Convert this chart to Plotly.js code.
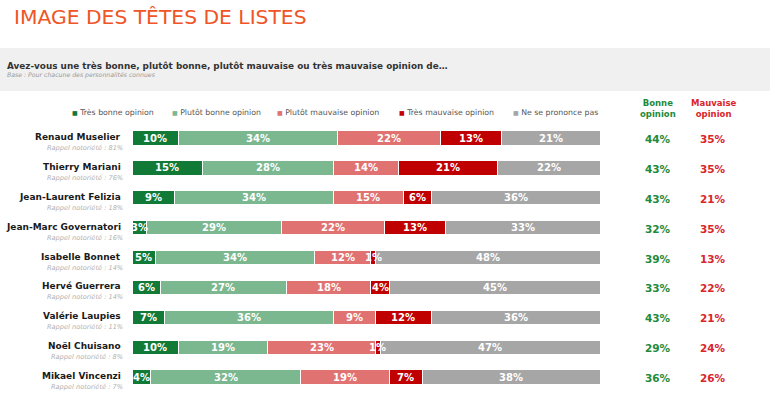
<!DOCTYPE html>
<html><head><meta charset="utf-8">
<script src="https://cdn.plot.ly/plotly-3.0.1.min.js"></script>
<style>html,body{margin:0;padding:0;background:#fff;}#chart{width:770px;height:396px;}</style>
</head><body><div id="chart"></div>
<script>
const names = ["Renaud Muselier","Thierry Mariani","Jean-Laurent Felizia","Jean-Marc Governatori","Isabelle Bonnet","Hervé Guerrera","Valérie Laupies","Noël Chuisano","Mikael Vincenzi"];
const rappel = [81,76,18,16,14,14,11,8,7];
const tresBonne = [10,15,9,3,5,6,7,10,4];
const plutotBonne = [34,28,34,29,34,27,36,19,32];
const plutotMauvaise = [22,14,15,22,12,18,9,23,19];
const tresMauvaise = [13,21,6,13,1,4,12,1,7];
const nsp = [21,22,36,33,48,45,36,47,38];
const bonneOpinion = [44,43,43,32,39,33,43,29,36];
const mauvaiseOpinion = [35,35,21,35,13,22,21,24,26];
const seriesNames = ["Très bonne opinion","Plutôt bonne opinion","Plutôt mauvaise opinion","Très mauvaise opinion","Ne se prononce pas"];
const colors = ["#127a37","#7bb78f","#e07272","#c00000","#a6a6a6"];
const seriesVals = [tresBonne, plutotBonne, plutotMauvaise, tresMauvaise, nsp];

const F = "DejaVu Sans, Verdana, sans-serif";
const traces = seriesVals.map((v,i)=>({
  type:'bar', orientation:'h', name:seriesNames[i], y:names, x:v,
  marker:{color:colors[i], line:{color:'#ffffff', width:1}},
  width:0.48,
  hoverinfo:'none'
}));

const ann = [];
// Segment labels (drawn on top so small segments overflow like the reference)
names.forEach((n,r)=>{
  let cum = 0;
  seriesVals.forEach((v,i)=>{
    const mid = cum + v[r]/2;
    cum += v[r];
    ann.push({xref:'x', yref:'y', x:mid, y:n, yshift:0, xanchor:'center', yanchor:'middle', showarrow:false,
      text:'<b>'+v[r]+'%</b>', font:{family:F, size:10, color:'#ffffff'}});
  });
});
// Title
ann.push({xref:'paper', yref:'paper', x:0, xshift:-132+12, y:1, yshift:122-31, xanchor:'left', yanchor:'bottom', showarrow:false,
  text:'IMAGE DES TÊTES DE LISTES', font:{family:F, size:20.3, color:'#ef5526'}});
// Question
ann.push({xref:'paper', yref:'paper', x:0, xshift:-132+5, y:1, yshift:122-66, xanchor:'left', yanchor:'middle', showarrow:false,
  text:'<b>Avez-vous une très bonne, plutôt bonne, plutôt mauvaise ou très mauvaise opinion de…</b>', font:{family:F, size:8.85, color:'#333333'}});
ann.push({xref:'paper', yref:'paper', x:0, xshift:-132+5, y:1, yshift:122-75, xanchor:'left', yanchor:'middle', showarrow:false,
  text:'<i>Base : Pour chacune des personnalités connues</i>', font:{family:F, size:6.2, color:'#9a9a9a'}});
// Legend
const legX = [70,170,275,397,511];
seriesNames.forEach((s,i)=>{
  ann.push({xref:'paper', yref:'paper', x:0, xshift:-132+legX[i], y:1, yshift:122-112, xanchor:'left', yanchor:'middle', showarrow:false,
    text:'<span style="color:'+colors[i]+';font-size:6px">■</span> '+s, font:{family:F, size:7.8, color:'#555555'}});
});
// Column headers
ann.push({xref:'paper', yref:'paper', x:1, xshift:658-600, y:1, yshift:122-108, xanchor:'center', yanchor:'middle', showarrow:false,
  text:'<b>Bonne<br>opinion</b>', font:{family:F, size:8.5, color:'#1e8a3c'}});
ann.push({xref:'paper', yref:'paper', x:1, xshift:713-600, y:1, yshift:122-108, xanchor:'center', yanchor:'middle', showarrow:false,
  text:'<b>Mauvaise<br>opinion</b>', font:{family:F, size:8.5, color:'#d9262b'}});
names.forEach((n,i)=>{
  ann.push({xref:'paper', yref:'y', x:0, xshift:-9, y:n, yshift:1, xanchor:'right', yanchor:'middle', showarrow:false,
    text:'<b>'+n+'</b>', font:{family:F, size:9, color:'#1a1a1a'}});
  ann.push({xref:'paper', yref:'y', x:0, xshift:-7, y:n, yshift:-10, xanchor:'right', yanchor:'middle', showarrow:false,
    text:'<i>Rappel notoriété : '+rappel[i]+'%</i>', font:{family:F, size:6.6, color:'#b0b0b0'}});
  ann.push({xref:'paper', yref:'y', x:1, xshift:58, y:n, yshift:-1, xanchor:'center', yanchor:'middle', showarrow:false,
    text:'<b>'+bonneOpinion[i]+'%</b>', font:{family:F, size:10.5, color:'#1e8a3c'}});
  ann.push({xref:'paper', yref:'y', x:1, xshift:113, y:n, yshift:-1, xanchor:'center', yanchor:'middle', showarrow:false,
    text:'<b>'+mauvaiseOpinion[i]+'%</b>', font:{family:F, size:10.5, color:'#d9262b'}});
});

const pyTop = 122, pyBot = 392, H = pyBot-pyTop;
const toPaperY = p => (pyBot-p)/H;
const layout = {
  width:770, height:396,
  margin:{l:132, r:170, t:122, b:4, pad:0},
  paper_bgcolor:'#ffffff', plot_bgcolor:'#ffffff',
  barmode:'stack', bargap:0.5, showlegend:false,
  xaxis:{range:[0,100], visible:false, fixedrange:true},
  yaxis:{autorange:'reversed', visible:false, fixedrange:true, type:'category', categoryorder:'array', categoryarray:names},
  shapes:[{type:'rect', xref:'paper', yref:'paper', x0:-132/468, x1:(770-132)/468, y0:toPaperY(91), y1:toPaperY(48),
    fillcolor:'#f0f0f0', line:{width:0}, layer:'below'}],
  annotations:ann,
  font:{family:F}
};
Plotly.newPlot('chart', traces, layout, {staticPlot:true, displayModeBar:false});
</script>
</body></html>
